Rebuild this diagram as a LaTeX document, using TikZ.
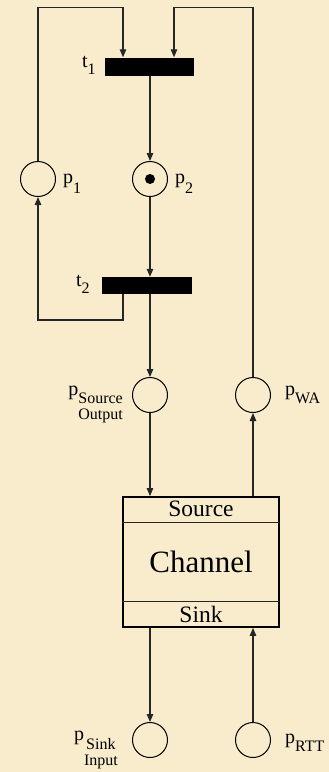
\documentclass[tikz,border=0pt]{standalone}
\usepackage{fontspec}
\setmainfont{Liberation Serif}
\usetikzlibrary{positioning, calc, arrows.meta}
\definecolor{parchment}{RGB}{248,236,204}
\newcommand{\psub}[3][8pt]{#2\raisebox{-#1}{\fontsize{16}{16}\selectfont #3}}

\begin{document}
\begin{tikzpicture}[
  x=1pt, y=-1pt,
  every node/.style={font=\fontsize{20}{20}\selectfont, inner sep=0pt},
  placenode/.style={circle, draw=black, line width=1pt, minimum size=35pt},
  transbar/.style={rectangle, fill=black, minimum width=89pt, minimum height=18pt},
  tok/.style={circle, fill=black, minimum size=10pt},
  flow/.style={black!85, line width=1.1pt, -{Triangle[length=8pt,width=6.5pt]}},
  divider/.style={black!85, line width=0.9pt},
]
% Background sheet
\fill[parchment] (0,0) rectangle (329,772);

% Transitions
\node[transbar] (t1) at (149.5,66.5) {};
\node[transbar, minimum width=90pt, minimum height=17pt] (t2) at (147,285.5) {};

% Places
\node[placenode] (p1) at (38,179) {};
\node[placenode] (p2) at (150,179) {};
\node[tok] (tok2) at (p2) {};
\node[placenode] (pso) at (150,395) {};
\node[placenode] (pwa) at (253,395) {};
\node[placenode] (psi) at (150,740) {};
\node[placenode] (prtt) at (253,740) {};

% Channel block
\node[draw, line width=1.8pt, minimum width=156pt, minimum height=130pt] (chan) at (201,562) {};
\draw[divider] ([yshift=-26pt]chan.north west) -- ([yshift=-26pt]chan.north east);
\draw[divider] ([yshift=26pt]chan.south west) -- ([yshift=26pt]chan.south east);
\node (src) at ([yshift=-13pt]chan.north) {\fontsize{23.5}{24}\selectfont Source};
\node (chanlab) at (chan.center) {\fontsize{31}{32}\selectfont Channel};
\node (snk) at ([yshift=13pt]chan.south) {\fontsize{23.5}{24}\selectfont Sink};

% Labels
\node[anchor=base west] (p1lab) at ([xshift=7pt,yshift=-4pt]p1.east) {\psub[10pt]{p}{1}};
\node[anchor=base west] (p2lab) at ([xshift=7pt,yshift=-4pt]p2.east) {\psub[10pt]{p}{2}};
\node[anchor=base west] (pwalab) at ([xshift=14pt]pwa.east) {\psub{p}{WA}};
\node[anchor=base west] (prttlab) at ([xshift=14pt,yshift=-3pt]prtt.east) {\psub{p}{RTT}};
\node[anchor=base east] (t1lab) at ([xshift=-9pt,yshift=-1pt]t1.west) {\psub[7pt]{t}{1}};
\node[anchor=base east] (t2lab) at ([xshift=-12pt,yshift=-1pt]t2.west) {\psub[7pt]{t}{2}};
\node[anchor=base east] (psolab) at ([xshift=-9pt]pso.west)
  {\psub{p}{\begin{tabular}[t]{@{}c@{}}Source\\Output\end{tabular}}};
\node[anchor=base east] (psilab) at ([xshift=-14pt]psi.west)
  {\psub[9pt]{p}{\begin{tabular}[t]{@{}c@{}}Sink\\Input\end{tabular}}};

% Arcs
\coordinate (topleft) at (38,7.5);
\coordinate (topright) at (253,7.5);
\coordinate (loopcorner) at (38,320);
\draw[flow] (p1.north) -- (topleft) -| ([xshift=-26.5pt]t1.north);
\draw[flow] (pwa.north) -- (topright) -| ([xshift=24.5pt]t1.north);
\draw[flow] (t1.south -| p2.north) -- (p2.north);
\draw[flow] (p2.south) -- (p2.south |- t2.north);
\draw[flow] ([xshift=-24pt]t2.south) |- (loopcorner) -- (p1.south);
\draw[flow] (t2.south -| pso.north) -- (pso.north);
\draw[flow] (pso.south) -- (pso.south |- chan.north);
\draw[flow] (chan.north -| pwa.south) -- (pwa.south);
\draw[flow] (chan.south -| psi.north) -- (psi.north);
\draw[flow] (prtt.north) -- (prtt.north |- chan.south);
\end{tikzpicture}
\end{document}
